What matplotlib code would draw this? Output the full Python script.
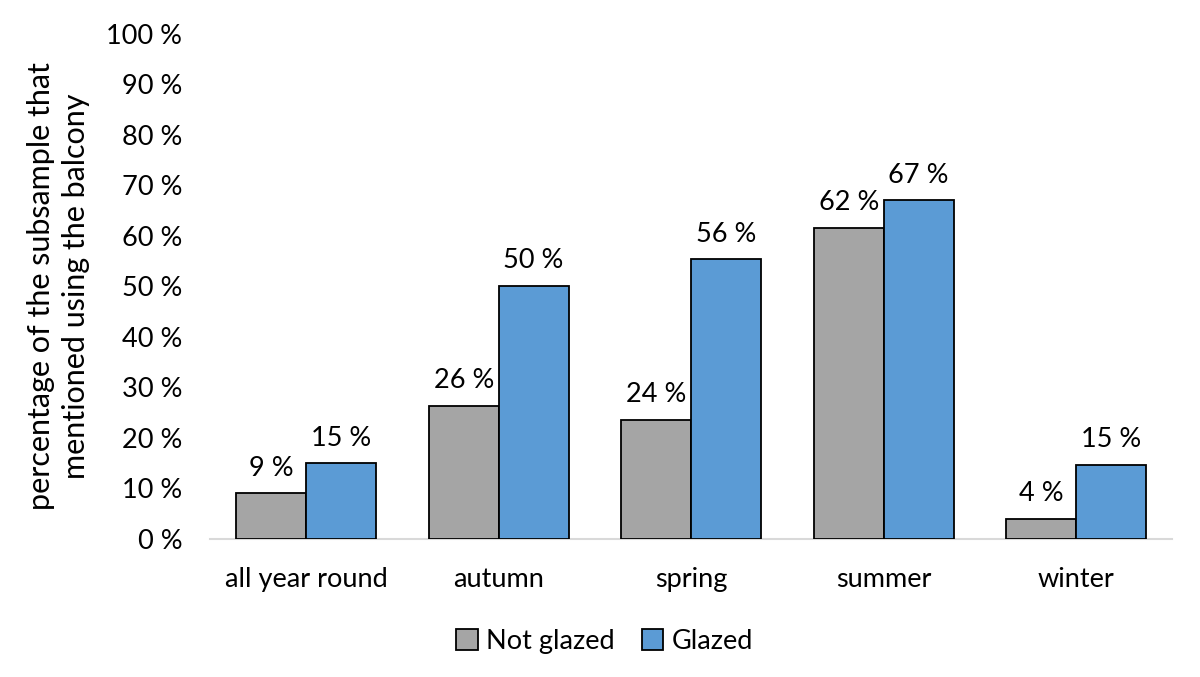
import numpy as np
import matplotlib.pyplot as plt
import matplotlib.ticker as mticker

plt.rcParams['font.family'] = ['Lato', 'DejaVu Sans']

# ===== DATA =====
categorias = ["all year round", "autumn", "spring", "summer", "winter"]
no_vidriado = [9.0, 26.4, 23.6, 61.6, 4.0]
vidriado = [15.0, 50.1, 55.4, 67.1, 14.7]
etiquetas_no = ["9 %", "26 %", "24 %", "62 %", "4 %"]
etiquetas_si = ["15 %", "50 %", "56 %", "67 %", "15 %"]

fig = plt.figure(figsize=(12, 6.77), dpi=100)
ax = fig.add_axes([0.175, 0.204, 0.802, 0.746])

x = np.arange(len(categorias))
w = 0.363

b1 = ax.bar(x - w / 2, no_vidriado, w, color="#A5A5A5", edgecolor="black",
            linewidth=1.3, label="Not glazed", zorder=3)
b2 = ax.bar(x + w / 2, vidriado, w, color="#5B9BD5", edgecolor="black",
            linewidth=1.3, label="Glazed", zorder=3)

ax.bar_label(b1, labels=etiquetas_no, padding=9, fontsize=19.5)
ax.bar_label(b2, labels=etiquetas_si, padding=9, fontsize=19.5)

ax.set_xlim(-0.5, len(categorias) - 0.5)
ax.set_ylim(0, 100)
ax.yaxis.set_major_locator(mticker.MultipleLocator(10))
ax.yaxis.set_major_formatter(mticker.FuncFormatter(lambda v, p: f"{int(v)} %"))
ax.set_xticks(x)
ax.set_xticklabels(categorias)
ax.tick_params(axis="both", length=0, labelsize=19.5)
ax.tick_params(axis="x", pad=20)
ax.tick_params(axis="y", pad=20)

for s in ["top", "right", "left"]:
    ax.spines[s].set_visible(False)
ax.spines["bottom"].set_color("#D9D9D9")
ax.spines["bottom"].set_linewidth(1.5)

ax.set_ylabel("percentage of the subsample that\nmentioned using the balcony",
              fontsize=22, labelpad=12, linespacing=1.3)

ax.legend(loc="upper center", bbox_to_anchor=(0.41, -0.13), ncol=2,
          frameon=False, fontsize=19.5, handlelength=0.8, handleheight=0.8,
          handletextpad=0.3, columnspacing=1.0)

fig.savefig("out.png", dpi=100)
